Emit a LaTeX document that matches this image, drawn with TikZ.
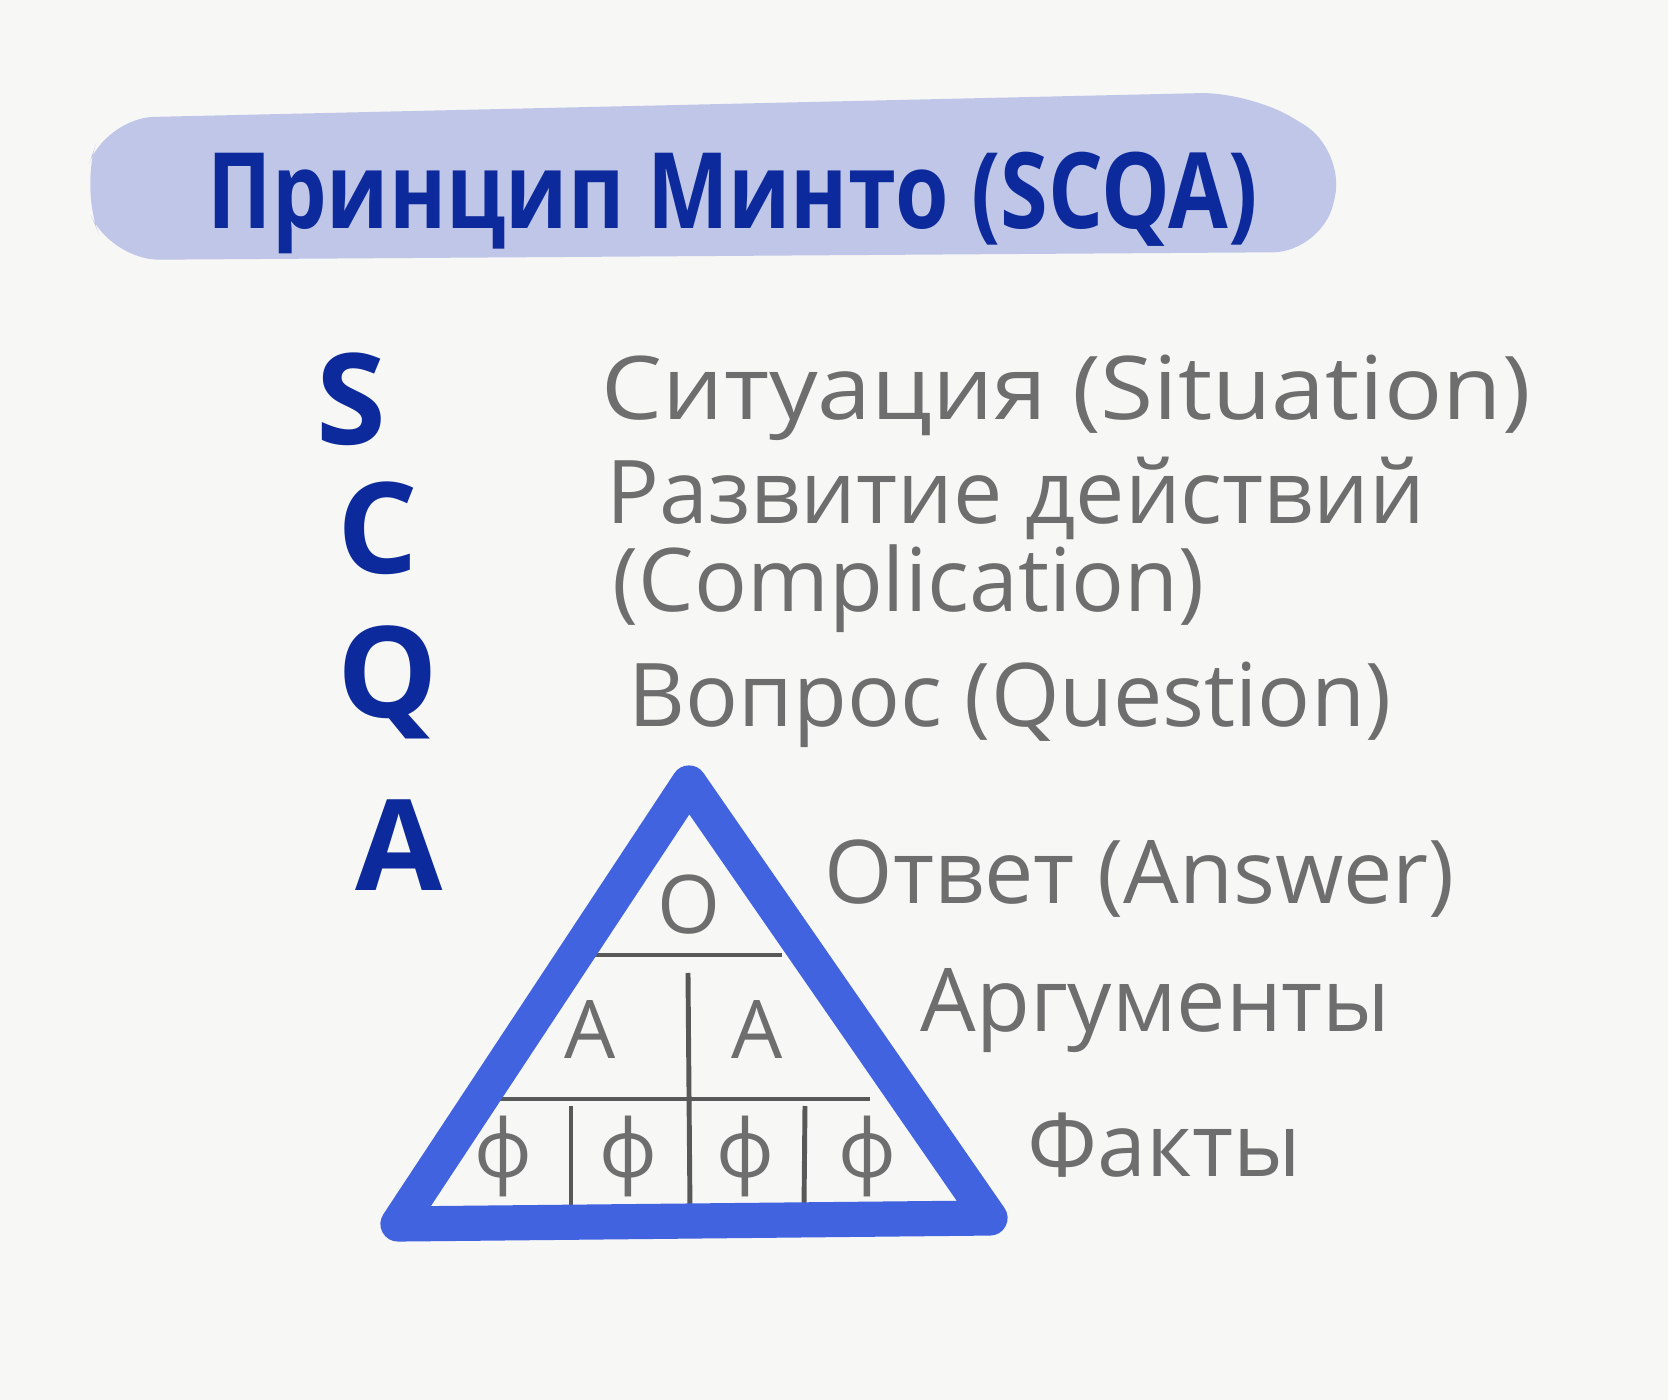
\documentclass[tikz,border=0pt]{standalone}
\usepackage{fontspec}
\setmainfont{Open Sans}
\usepackage{xcolor}
\usetikzlibrary{positioning}

\definecolor{paper}{HTML}{F7F7F5}
\definecolor{bandblue}{HTML}{C0C6E8}
\definecolor{inkblue}{HTML}{0D2A9C}
\definecolor{penblue}{HTML}{4163E0}
\definecolor{pencil}{HTML}{6E6E6E}

\begin{document}
\begin{tikzpicture}[
    x=0.01cm, y=-0.01cm,
    title/.style={inner sep=0pt, anchor=base west, text=inkblue, font=\fontsize{30}{36}\selectfont\bfseries},
    letter/.style={inner sep=0pt, anchor=base, text=inkblue, font=\fontsize{36}{42}\selectfont\bfseries},
    label/.style={inner sep=0pt, anchor=base west, text=pencil, font=\fontsize{25}{30}\selectfont},
    cell/.style={inner sep=0pt, anchor=base, text=pencil, font=\fontsize{23}{28}\selectfont},
    grid/.style={draw=pencil!80!black, line width=1.4pt}
]
    % page
    \fill[paper] (0,0) rectangle (1668,1400);

    % highlighted band behind the title
    \fill[bandblue, rounded corners=14pt] (80,190) -- (105,118) -- (1250,92)
        -- (1346,150) -- (1322,252) -- (110,260) -- cycle;
    \node[title] (T) at (207,229) {\scalebox{0.82}[1]{Принцип Минто (SCQA)}};

    % SCQA letters
    \node[letter] (S) at (351,445) {S};
    \node[letter] (C) at (378,574) {C};
    \node[letter] (Q) at (388,718) {Q};
    \node[letter] (A) at (399,891) {A};

    % descriptions
    \node[label] (sit) at (601,420) {\scalebox{1.1}[1]{Ситуация (Situation)}};
    \node[label] (comp) at (606,524) {Развитие действий};
    \node[label] (comp2) at (612,612) {(Complication)};
    \node[label] (ques) at (628,727) {Вопрос (Question)};
    \node[label] (ans) at (824,904) {Ответ (Answer)};
    \node[label] (arg) at (920,1032) {Аргументы};
    \node[label] (fact) at (1027,1176) {Факты};

    % pyramid
    \coordinate (top) at (689,783);
    \coordinate (bl) at (398,1224);
    \coordinate (br) at (990,1218);
    \coordinate (r1l) at (590,955);
    \coordinate (r1r) at (782,955);
    \coordinate (r2l) at (491,1099);
    \coordinate (r2r) at (870,1099);
    \coordinate (v0t) at (688,973);
    \coordinate (v0b) at (690,1210);
    \coordinate (v1t) at (571,1106);
    \coordinate (v1b) at (571,1208);
    \coordinate (v2t) at (805,1106);
    \coordinate (v2b) at (804,1208);

    \draw[grid] (r1l) -- (r1r);
    \draw[grid] (r2l) -- (r2r);
    \draw[grid] (v0t) -- (v0b);
    \draw[grid] (v1t) -- (v1b);
    \draw[grid] (v2t) -- (v2b);

    \draw[penblue, line width=10pt, line join=round, line cap=round] (top) -- (br) -- (bl) -- cycle;

    \node[cell] (o) at (689,934) {О};
    \node[cell] (a1) at (590,1058) {А};
    \node[cell] (a2) at (757,1058) {А};
    \node[cell] (f1) at (503,1178) {ф};
    \node[cell] (f2) at (628,1178) {ф};
    \node[cell] (f3) at (745,1178) {ф};
    \node[cell] (f4) at (867,1178) {ф};
\end{tikzpicture}
\end{document}
